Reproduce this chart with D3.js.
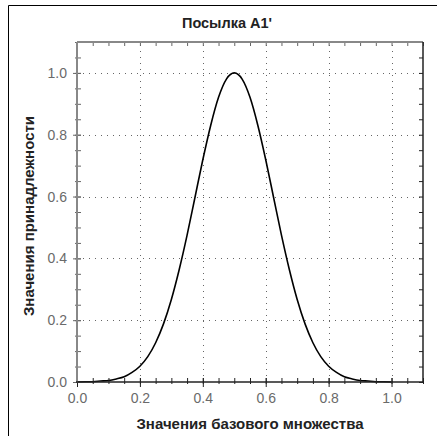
<!DOCTYPE html>
<html>
<head>
<meta charset="utf-8">
<script src="https://cdn.jsdelivr.net/npm/d3@7.9.0/dist/d3.min.js"></script>
<style>
  html, body { margin: 0; padding: 0; background: #fff; }
  svg { display: block; font-family: "Liberation Sans", Arial, sans-serif; }
</style>
</head>
<body>
<svg id="chart" width="437" height="436"></svg>
<script>
// Chart data
const xValues = [0, 0.025, 0.05, 0.075, 0.1, 0.125, 0.15, 0.175, 0.2, 0.225, 0.25,
  0.275, 0.3, 0.325, 0.35, 0.375, 0.4, 0.425, 0.45, 0.475, 0.5,
  0.525, 0.55, 0.575, 0.6, 0.625, 0.65, 0.675, 0.7, 0.725, 0.75,
  0.775, 0.8, 0.825, 0.85, 0.875, 0.9, 0.925, 0.95, 0.975, 1.0];
const yValues = [0.000, 0.001, 0.001, 0.003, 0.005, 0.010, 0.017, 0.031, 0.051, 0.082, 0.127,
  0.188, 0.267, 0.364, 0.475, 0.597, 0.719, 0.830, 0.921, 0.980, 1.000,
  0.980, 0.921, 0.830, 0.719, 0.597, 0.475, 0.364, 0.267, 0.188, 0.127,
  0.082, 0.051, 0.031, 0.017, 0.010, 0.005, 0.003, 0.001, 0.001, 0.000];
const majorTicks = [0, 0.2, 0.4, 0.6, 0.8, 1.0];
const minorTicks = d3.range(0, 1.1001, 0.05);

const title = "Посылка A1'";
const xTitle = 'Значения базового множества';
const yTitle = 'Значения принадлежности';

// Layout
const svg = d3.select('#chart');
const plot = { left: 77, right: 423, top: 42, bottom: 382 };

const x = d3.scaleLinear().domain([0, 1.1]).range([plot.left, plot.right]);
const y = d3.scaleLinear().domain([0, 1.1]).range([plot.bottom, plot.top]);

// Outer frame (top and left edges only are visible)
svg.append('path')
  .attr('d', 'M8.5,436V5.5H437')
  .attr('fill', 'none')
  .attr('stroke', '#000')
  .attr('stroke-width', 1);

// Dotted grid
const grid = svg.append('g')
  .attr('stroke', '#666')
  .attr('stroke-width', 1)
  .attr('stroke-dasharray', '1,5');

grid.selectAll('.gx')
  .data(majorTicks.slice(1))
  .enter()
  .append('line')
  .attr('x1', d => Math.round(x(d)) + 0.5)
  .attr('x2', d => Math.round(x(d)) + 0.5)
  .attr('y1', plot.bottom)
  .attr('y2', plot.top);

grid.selectAll('.gy')
  .data(majorTicks.slice(1))
  .enter()
  .append('line')
  .attr('y1', d => Math.round(y(d)) + 0.5)
  .attr('y2', d => Math.round(y(d)) + 0.5)
  .attr('x1', plot.left)
  .attr('x2', plot.right);

// Curve
const line = d3.line()
  .x(d => x(d[0]))
  .y(d => y(d[1]))
  .curve(d3.curveMonotoneX);

svg.append('path')
  .datum(d3.zip(xValues, yValues))
  .attr('d', line)
  .attr('fill', 'none')
  .attr('stroke', '#000')
  .attr('stroke-width', 1.6);

// Axes: built with d3 axis generators, ticks crossing the frame lines
function styleAxis(g, color) {
  g.select('.domain').remove();
  g.selectAll('.tick line').attr('stroke', color).attr('stroke-width', 1);
  g.selectAll('.tick text')
    .attr('fill', '#6a6a6a')
    .attr('font-size', 14)
    .attr('font-family', '"Liberation Sans", Arial, sans-serif');
}

const fmt = d3.format('.1f');

// minor ticks
svg.append('g')
  .attr('transform', `translate(0,${plot.bottom + 2})`)
  .call(d3.axisTop(x).tickValues(minorTicks).tickSize(6).tickFormat(''))
  .call(g => styleAxis(g, '#222'));
svg.append('g')
  .attr('transform', `translate(0,${plot.top})`)
  .call(d3.axisBottom(x).tickValues(minorTicks).tickSize(4).tickFormat(''))
  .call(g => styleAxis(g, '#666'));
svg.append('g')
  .attr('transform', `translate(${plot.left - 2},0)`)
  .call(d3.axisRight(y).tickValues(minorTicks).tickSize(6).tickFormat(''))
  .call(g => styleAxis(g, '#666'));
svg.append('g')
  .attr('transform', `translate(${plot.right},0)`)
  .call(d3.axisLeft(y).tickValues(minorTicks).tickSize(4).tickFormat(''))
  .call(g => styleAxis(g, '#222'));

// major ticks with labels
svg.append('g')
  .attr('transform', `translate(0,${plot.bottom})`)
  .call(d3.axisBottom(x).tickValues(majorTicks).tickSize(5).tickPadding(6).tickFormat(fmt))
  .call(g => styleAxis(g, '#222'))
  .call(g => g.selectAll('.tick line').attr('y1', -4));
svg.append('g')
  .attr('transform', `translate(${plot.left},0)`)
  .call(d3.axisLeft(y).tickValues(majorTicks).tickSize(4).tickPadding(6).tickFormat(fmt))
  .call(g => styleAxis(g, '#666'))
  .call(g => g.selectAll('.tick line').attr('x1', 4));

// Frame lines of the plot area
svg.append('line')
  .attr('x1', plot.left).attr('x2', plot.left)
  .attr('y1', plot.top).attr('y2', plot.bottom)
  .attr('stroke', '#888').attr('stroke-width', 2);
svg.append('line')
  .attr('x1', plot.left).attr('x2', plot.right)
  .attr('y1', plot.top).attr('y2', plot.top)
  .attr('stroke', '#888').attr('stroke-width', 2);
svg.append('line')
  .attr('x1', plot.left - 1).attr('x2', plot.right + 1)
  .attr('y1', plot.bottom).attr('y2', plot.bottom)
  .attr('stroke', '#222').attr('stroke-width', 1.5);
svg.append('line')
  .attr('x1', plot.right).attr('x2', plot.right)
  .attr('y1', plot.top).attr('y2', plot.bottom)
  .attr('stroke', '#222').attr('stroke-width', 1.5);

// Titles
svg.append('text')
  .attr('x', 227)
  .attr('y', 28)
  .attr('text-anchor', 'middle')
  .attr('font-size', 14.5)
  .attr('font-weight', 'bold')
  .attr('fill', '#222')
  .text(title);

svg.append('text')
  .attr('x', 250)
  .attr('y', 429)
  .attr('text-anchor', 'middle')
  .attr('font-size', 15)
  .attr('font-weight', 'bold')
  .attr('fill', '#222')
  .text(xTitle);

svg.append('text')
  .attr('transform', 'translate(34,216) rotate(-90)')
  .attr('text-anchor', 'middle')
  .attr('font-size', 15)
  .attr('font-weight', 'bold')
  .attr('fill', '#222')
  .text(yTitle);
</script>
</body>
</html>
